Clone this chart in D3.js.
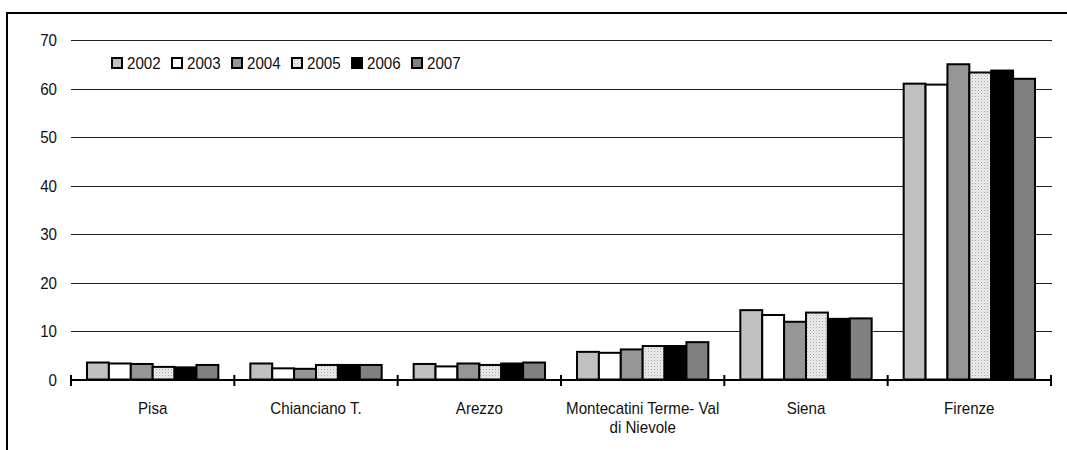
<!DOCTYPE html>
<html><head><meta charset="utf-8">
<script src="https://cdn.jsdelivr.net/npm/d3@7"></script>
<style>
body{margin:0;background:#fff;}
text{font-family:"Liberation Sans",Arial,sans-serif;}
</style></head>
<body><svg id="c" width="1067" height="450"></svg>
<script>
const categories = ["Pisa","Chianciano T.","Arezzo","Montecatini Terme- Val di Nievole","Siena","Firenze"];
const years = ["2002","2003","2004","2005","2006","2007"];
const v2002 = [3.5, 3.3, 3.2, 5.7, 14.3, 61.0];
const v2003 = [3.3, 2.3, 2.7, 5.5, 13.3, 60.8];
const v2004 = [3.2, 2.2, 3.3, 6.2, 11.9, 65.0];
const v2005 = [2.6, 3.0, 3.0, 6.9, 13.8, 63.3];
const v2006 = [2.5, 3.0, 3.3, 6.9, 12.5, 63.7];
const v2007 = [3.0, 3.0, 3.5, 7.7, 12.6, 62.0];
const yTicks = [0,10,20,30,40,50,60,70];
const series = [v2002,v2003,v2004,v2005,v2006,v2007];
const fills = ["#c0c0c0","#ffffff","#969696","url(#dots)","#000000","#808080"];

const FS = 17, SX = 0.89;
const svg = d3.select("#c");
function txt(parent, x, yy, s, anchor){
  return parent.append("text")
    .attr("transform",`translate(${x},${yy}) scale(${SX},1)`)
    .attr("text-anchor",anchor||"start").attr("font-size",FS).attr("fill","#111").text(s);
}
const defs = svg.append("defs");
const pat = defs.append("pattern").attr("id","dots").attr("width",3).attr("height",3).attr("patternUnits","userSpaceOnUse");
pat.append("rect").attr("width",3).attr("height",3).attr("fill","#ececec");
pat.append("rect").attr("x",0).attr("y",0).attr("width",1).attr("height",1).attr("fill","#a8a8a8");
pat.append("rect").attr("x",1.5).attr("y",1.5).attr("width",1).attr("height",1).attr("fill","#c8c8c8");

svg.append("rect").attr("x",7).attr("y",13).attr("width",1100).attr("height",500)
  .attr("fill","none").attr("stroke","#000").attr("stroke-width",2);

const x0 = d3.scaleBand().domain(categories).range([71,1051]).padding(0);
const x1 = d3.scaleBand().domain(years).range([16, x0.bandwidth()-16]).padding(0);
const y = d3.scaleLinear().domain([0,70]).range([379.5,40]);

// gridlines
svg.append("g").selectAll("line").data(yTicks.filter(d=>d>0)).join("line")
  .attr("x1",71).attr("x2",1052).attr("y1",d=>Math.round(y(d))+0.5).attr("y2",d=>Math.round(y(d))+0.5)
  .attr("stroke","#222").attr("stroke-width",1);

// y labels
const yl = svg.append("g");
yTicks.forEach(d=>txt(yl, 57, y(d)+6, d, "end"));

// bars
const g = svg.append("g");
categories.forEach((c,i)=>{
  years.forEach((yr,j)=>{
    const v = series[j][i];
    g.append("rect")
      .attr("x", x0(c)+x1(yr))
      .attr("y", y(v))
      .attr("width", x1.bandwidth())
      .attr("height", y(0)-y(v))
      .attr("fill", fills[j]).attr("stroke","#000").attr("stroke-width",2);
  });
});

// x axis
const ax = svg.append("g");
ax.append("line").attr("x1",71).attr("x2",1051).attr("y1",380).attr("y2",380).attr("stroke","#000").attr("stroke-width",2);
const tickXs = categories.map(c=>x0(c)).concat([x0.range()[1]]);
ax.selectAll("line.t").data(tickXs).join("line").attr("class","t")
  .attr("x1",d=>d).attr("x2",d=>d).attr("y1",375).attr("y2",386).attr("stroke","#000").attr("stroke-width",2);

// category labels
const wrap = {"Montecatini Terme- Val di Nievole":["Montecatini Terme- Val","di Nievole"]};
const cl = svg.append("g");
categories.forEach(c=>{
  const lines = wrap[c] || [c];
  lines.forEach((l,k)=>txt(cl, x0(c)+x0.bandwidth()/2, 414 + k*19, l, "middle"));
});

// legend
const lg = svg.append("g").attr("transform","translate(111,57)");
years.forEach((yr,j)=>{
  const it = lg.append("g").attr("transform",`translate(${j*60},0)`);
  it.append("rect").attr("x",1).attr("y",1).attr("width",10).attr("height",10)
    .attr("fill",fills[j]).attr("stroke","#000").attr("stroke-width",2);
  txt(it, 16, 12, yr);
});
</script></body></html>
